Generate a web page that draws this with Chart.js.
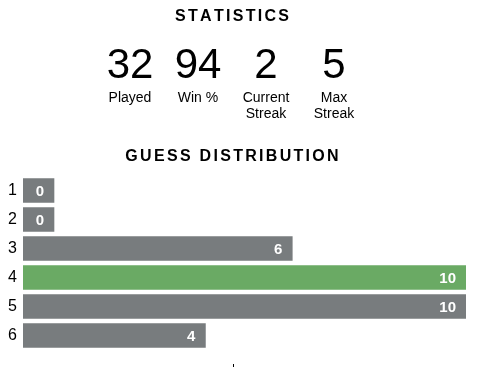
<!DOCTYPE html>
<html lang="en">
<head>
    <meta charset="UTF-8">
    <title>Statistics</title>
    <script src="https://cdn.jsdelivr.net/npm/chart.js"></script>
    <style>
        body { margin: 0; background: #fff; }
    </style>
</head>
<body>

    <canvas id="guessChart" width="481" height="367"></canvas>

    <script>
        // stats header
        const statValues = [32, 94, 2, 5];
        const statLabels = [['Played'], ['Win %'], ['Current', 'Streak'], ['Max', 'Streak']];

        // guess distribution
        const guessLabels = ['1', '2', '3', '4', '5', '6'];
        const guessCounts = [0, 0, 6, 10, 10, 4];
        const lastGuess = 4;

        const gray = '#787c7e';
        const green = '#6aaa64';
        const font = '"Liberation Sans", Arial, sans-serif';

        function spacedText(ctx, text, cx, y, spacing) {
            let total = 0;
            for (const ch of text) total += ctx.measureText(ch).width;
            total += spacing * (text.length - 1);
            let x = cx - total / 2;
            ctx.textAlign = 'left';
            for (const ch of text) {
                ctx.fillText(ch, x, y);
                x += ctx.measureText(ch).width + spacing;
            }
        }

        const headerPlugin = {
            id: 'header',
            afterDraw(chart) {
                const ctx = chart.ctx;
                ctx.save();
                ctx.fillStyle = '#000';
                ctx.textBaseline = 'alphabetic';

                ctx.font = 'bold 16px ' + font;
                spacedText(ctx, 'STATISTICS', 232, 21, 2.3);
                spacedText(ctx, 'GUESS DISTRIBUTION', 232, 161, 2.3);

                ctx.textAlign = 'center';
                statValues.forEach((v, i) => {
                    const cx = 232 + (i - 1.5) * 68;
                    ctx.font = '42px ' + font;
                    ctx.fillText(String(v), cx, 78);
                    ctx.font = '14px ' + font;
                    statLabels[i].forEach((line, j) => {
                        ctx.fillText(line, cx, 102 + j * 16);
                    });
                });

                // little mark at the bottom
                ctx.fillRect(233, 364, 1, 3);
                ctx.restore();
            }
        };

        const barLabelPlugin = {
            id: 'barLabels',
            afterDatasetsDraw(chart) {
                const ctx = chart.ctx;
                const meta = chart.getDatasetMeta(0);
                ctx.save();
                ctx.fillStyle = '#fff';
                ctx.font = 'bold 15px ' + font;
                ctx.textAlign = 'right';
                ctx.textBaseline = 'middle';
                meta.data.forEach((bar, i) => {
                    ctx.fillText(String(guessCounts[i]), bar.x - 10, bar.y + 1);
                });
                ctx.restore();
            }
        };

        const ctx = document.getElementById('guessChart').getContext('2d');
        new Chart(ctx, {
            type: 'bar',
            data: {
                labels: guessLabels,
                datasets: [{
                    data: guessCounts,
                    base: -0.2,
                    minBarLength: 31,
                    barThickness: 24,
                    backgroundColor: guessLabels.map((l, i) => i + 1 === lastGuess ? green : gray),
                    borderWidth: 0
                }]
            },
            options: {
                indexAxis: 'y',
                responsive: false,
                animation: false,
                layout: {
                    padding: { top: 176, bottom: 17, left: 0, right: 15 }
                },
                plugins: {
                    legend: { display: false },
                    tooltip: { enabled: false }
                },
                scales: {
                    x: {
                        display: false,
                        min: -0.2,
                        max: 10
                    },
                    y: {
                        grid: { display: false, drawTicks: false },
                        border: { display: false },
                        afterFit: (scale) => { scale.width = 23; },
                        ticks: {
                            color: '#000',
                            padding: 6,
                            font: { family: font, size: 16 }
                        }
                    }
                }
            },
            plugins: [headerPlugin, barLabelPlugin]
        });
    </script>

</body>
</html>
